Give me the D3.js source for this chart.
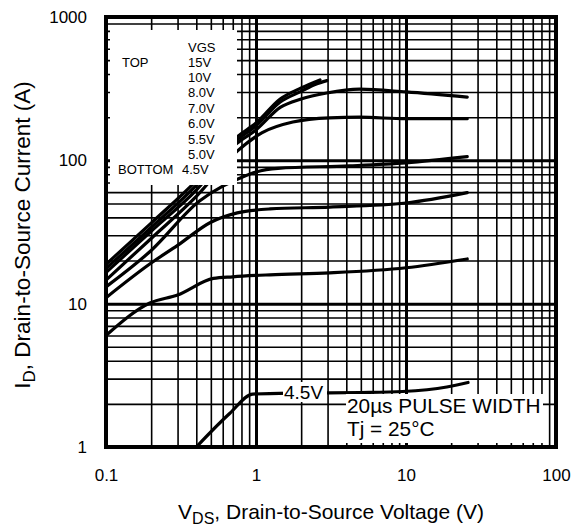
<!DOCTYPE html>
<html>
<head>
<meta charset="utf-8">
<script src="https://cdn.jsdelivr.net/npm/d3@7"></script>
<style>
  body { margin: 0; background: #fff; }
  svg text { font-family: "Liberation Sans", Arial, Helvetica, sans-serif; fill: #000; }
</style>
</head>
<body>
<div class="chart"></div>
<script>
// DATA ------------------------------------
const vgsLabels = ['15V', '10V', '8.0V', '7.0V', '6.0V', '5.5V', '5.0V', '4.5V']

// [VDS (V), ID (A)]
const vgs15 = [[0.1, 18.8], [0.2, 36.5], [0.4, 72], [0.75, 146], [1.0, 182], [1.45, 268], [2.0, 320], [2.67, 364]]
const vgs10 = [[0.1, 17.6], [0.2, 34], [0.4, 67], [0.75, 139], [1.0, 174], [1.45, 255], [2.0, 303], [2.5, 340], [2.97, 360]]
const vgs8 = [[0.1, 16.5], [0.2, 32], [0.4, 62], [0.75, 132], [1.0, 163], [1.45, 234], [2.0, 268], [2.96, 295], [4.9, 314], [10, 300], [25.6, 276]]
const vgs7 = [[0.1, 14.6], [0.2, 28.5], [0.4, 56], [0.75, 116], [1.1, 156], [1.76, 185], [3.1, 198], [4.9, 200], [10, 195], [25.6, 195]]
const vgs6 = [[0.1, 13.1], [0.2, 23.5], [0.42, 52], [0.6, 66], [0.8, 76], [1.0, 83], [1.4, 88], [4.2, 91.5], [10, 96], [25.6, 106]]
const vgs55 = [[0.1, 11.0], [0.2, 19.2], [0.3, 25.5], [0.5, 37], [0.75, 43], [1.24, 45.8], [3.1, 47.2], [10, 50.4], [25.6, 59.5]]
const vgs5 = [[0.1, 6.0], [0.196, 10.1], [0.3, 11.5], [0.52, 15.0], [0.7, 15.4], [1.24, 15.9], [3.1, 16.4], [10, 17.8], [25.6, 20.5]]
const vgs45 = [[0.4, 1.0], [0.67, 1.72], [0.95, 2.34], [2.0, 2.38], [5.0, 2.4], [9.5, 2.44], [18.7, 2.62], [25.9, 2.82]]

const curves = [vgs15, vgs10, vgs8, vgs7, vgs6, vgs55, vgs5, vgs45]

const xTicks = [0.1, 1, 10, 100]
const yTicks = [1, 10, 100, 1000]

// CHART INIT ------------------------------
const W = 576, H = 529
const pL = 106, pR = 556, pT = 17, pB = 447

const svg = d3.select('.chart')
    .append('svg')
    .attr('width', W)
    .attr('height', H)

const x = d3.scaleLog().domain([0.1, 100]).range([pL, pR])
const y = d3.scaleLog().domain([1, 1000]).range([pB, pT])

// grid values, 1..9 per decade
const gridX = []
xTicks.slice(0, -1).forEach(d => { for (let k = 1; k <= 9; k++) gridX.push(+(k * d).toPrecision(3)) })
gridX.push(100)
const gridY = []
yTicks.slice(0, -1).forEach(d => { for (let k = 1; k <= 9; k++) gridY.push(k * d) })
gridY.push(1000)

const isMajor = v => Math.abs(Math.log10(v) - Math.round(Math.log10(v))) < 1e-6

const gx = svg.append('g')
    .attr('class', 'grid-x')
    .attr('transform', `translate(0,${pB})`)
    .call(d3.axisBottom(x).tickValues(gridX).tickSize(-(pB - pT)).tickFormat(''))
gx.select('.domain').remove()
gx.selectAll('.tick line')
    .attr('stroke', '#000')
    .attr('stroke-width', d => isMajor(d) ? 3 : 1.6)

const gy = svg.append('g')
    .attr('class', 'grid-y')
    .attr('transform', `translate(${pL},0)`)
    .call(d3.axisLeft(y).tickValues(gridY).tickSize(-(pR - pL)).tickFormat(''))
gy.select('.domain').remove()
gy.selectAll('.tick line')
    .attr('stroke', '#000')
    .attr('stroke-width', d => isMajor(d) ? 3 : 1.6)

// clip for curves
svg.append('clipPath').attr('id', 'plot')
    .append('rect')
    .attr('x', pL).attr('y', pT)
    .attr('width', pR - pL).attr('height', pB - pT)

const line = d3.line()
    .x(d => x(d[0]))
    .y(d => y(d[1]))
    .curve(d3.curveMonotoneX)

svg.append('g')
    .attr('clip-path', 'url(#plot)')
    .selectAll('path')
    .data(curves)
    .enter()
    .append('path')
    .attr('d', line)
    .attr('fill', 'none')
    .attr('stroke', '#000')
    .attr('stroke-width', 3.2)
    .attr('stroke-linecap', 'round')

// legend box
const legend = svg.append('g')
legend.append('rect')
    .attr('x', 110).attr('y', 30)
    .attr('width', 127).attr('height', 155)
    .attr('fill', '#fff')
legend.append('text')
    .attr('x', 188).attr('y', 51.5)
    .attr('font-size', 13)
    .text('VGS')
legend.selectAll('.vgs')
    .data(vgsLabels)
    .enter()
    .append('text')
    .attr('class', 'vgs')
    .attr('x', (d, i) => i == vgsLabels.length - 1 ? 182 : 188)
    .attr('y', (d, i) => 66.5 + i * 15.4)
    .attr('font-size', 13)
    .text(d => d)
legend.append('text')
    .attr('x', 122).attr('y', 66.5)
    .attr('font-size', 13)
    .text('TOP')
legend.append('text')
    .attr('x', 118).attr('y', 66.5 + 7 * 15.4)
    .attr('font-size', 13)
    .text('BOTTOM')

// 4.5V label on the curve
svg.append('rect')
    .attr('x', 283).attr('y', 382)
    .attr('width', 44).attr('height', 20)
    .attr('fill', '#fff')
svg.append('text')
    .attr('x', 284).attr('y', 398.5)
    .attr('font-size', 19)
    .text('4.5V')

// pulse note
svg.append('rect')
    .attr('x', 346).attr('y', 394)
    .attr('width', 197).attr('height', 49)
    .attr('fill', '#fff')
svg.append('text')
    .attr('x', 347).attr('y', 413)
    .attr('font-size', 20.8)
    .text('20µs PULSE WIDTH')
svg.append('text')
    .attr('x', 347).attr('y', 436)
    .attr('font-size', 20.8)
    .text('Tj = 25°C')

// frame
svg.append('rect')
    .attr('x', pL).attr('y', pT)
    .attr('width', pR - pL).attr('height', pB - pT)
    .attr('fill', 'none')
    .attr('stroke', '#000')
    .attr('stroke-width', 4)

// AXES ------------------------------------
const xAxis = svg.append('g')
    .attr('transform', `translate(0,${pB})`)
    .call(d3.axisBottom(x).tickValues(xTicks).tickSize(0).tickPadding(22).tickFormat(d => String(d)))
xAxis.select('.domain').remove()
xAxis.selectAll('text').attr('font-size', 17)

const yAxis = svg.append('g')
    .attr('transform', `translate(${pL},0)`)
    .call(d3.axisLeft(y).tickValues(yTicks).tickSize(0).tickPadding(19).tickFormat(d => String(d)))
yAxis.select('.domain').remove()
yAxis.selectAll('text').attr('font-size', 17)

// axis titles
const xTitle = svg.append('text')
    .attr('x', (pL + pR) / 2)
    .attr('y', 519)
    .attr('text-anchor', 'middle')
    .attr('font-size', 21)
xTitle.append('tspan').text('V')
xTitle.append('tspan').attr('font-size', 16).attr('dy', 5).text('DS')
xTitle.append('tspan').attr('dy', -5).text(', Drain-to-Source Voltage (V)')

const yTitle = svg.append('text')
    .attr('transform', `translate(30,235) rotate(-90)`)
    .attr('text-anchor', 'middle')
    .attr('font-size', 22.5)
yTitle.append('tspan').text('I')
yTitle.append('tspan').attr('font-size', 17).attr('dy', 5).text('D')
yTitle.append('tspan').attr('dy', -5).text(', Drain-to-Source Current (A)')
</script>
</body>
</html>
